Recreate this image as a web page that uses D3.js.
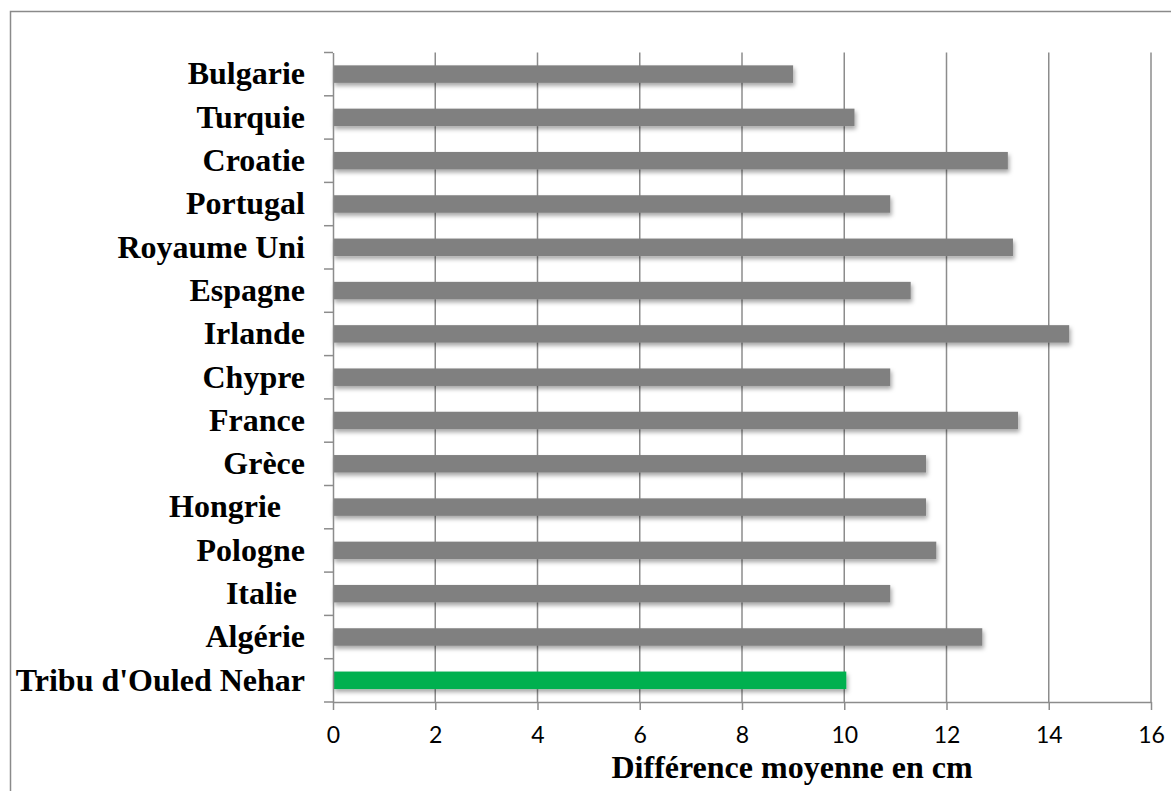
<!DOCTYPE html>
<html><head><meta charset="utf-8">
<script src="https://cdn.jsdelivr.net/npm/d3@7"></script>
<style>
body{margin:0;background:#fff;}
svg{display:block;}
</style></head>
<body>
<svg id="chart" width="1171" height="791"></svg>
<script>
const categories = ["Bulgarie","Turquie","Croatie","Portugal","Royaume Uni","Espagne","Irlande","Chypre","France","Grèce","Hongrie\u00a0\u00a0\u00a0","Pologne","Italie\u00a0","Algérie","Tribu d'Ouled Nehar"];
const values = [9.0,10.2,13.2,10.9,13.3,11.3,14.4,10.9,13.4,11.6,11.6,11.8,10.9,12.7,10.04];
const highlight = "Tribu d'Ouled Nehar";
const xTicks = [0,2,4,6,8,10,12,14,16];
const xTitle = "Différence moyenne en cm";

const svg = d3.select("#chart");
const m = {left:333, right:1151, top:52.5, bottom:702};

svg.append("rect").attr("x",10.5).attr("y",11.5).attr("width",1200).attr("height",800)
  .attr("fill","none").attr("stroke","#8a8a8a").attr("stroke-width",1.5);

const defs = svg.append("defs");
const f = defs.append("filter").attr("id","sh").attr("x","-5%").attr("y","-50%").attr("width","110%").attr("height","220%");
f.append("feDropShadow").attr("dx",1.5).attr("dy",3).attr("stdDeviation",2).attr("flood-color","#000").attr("flood-opacity",0.35);

const x = d3.scaleLinear().domain([0,16]).range([m.left,m.right]);
const yb = d3.scaleBand().domain(categories).range([m.top,m.bottom]);

// gridlines
svg.append("g").selectAll("line").data(xTicks.filter(d=>d>0)).join("line")
  .attr("x1",d=>x(d)).attr("x2",d=>x(d)).attr("y1",m.top).attr("y2",m.bottom)
  .attr("stroke","#8c8c8c").attr("stroke-width",1.5);

// bars
svg.append("g").selectAll("rect").data(categories).join("rect")
  .attr("x",x(0)).attr("y",d=>yb(d)+yb.bandwidth()/2-8.8)
  .attr("width",(d,i)=>x(values[i])-x(0)).attr("height",17.5)
  .attr("fill",d=>d===highlight?"#00b050":"#808080")
  .attr("filter","url(#sh)");

// x axis
const xa = svg.append("g").attr("transform",`translate(0,${m.bottom})`)
  .call(d3.axisBottom(x).tickValues(xTicks).tickSize(8).tickPadding(17).tickSizeOuter(0));
xa.select(".domain").attr("stroke","#8c8c8c").attr("stroke-width",1.5);
xa.selectAll(".tick line").attr("stroke","#8c8c8c").attr("stroke-width",1.5);
xa.selectAll("text").attr("font-family","Lato, 'Open Sans', sans-serif").attr("font-size",23).attr("fill","#000");

// y axis
const ya = svg.append("g").attr("transform",`translate(${m.left},0)`)
  .call(d3.axisLeft(yb).tickSize(0).tickPadding(28));
ya.select(".domain").attr("stroke","#8c8c8c").attr("stroke-width",1.5);
ya.selectAll("text").attr("font-family","'Liberation Serif','Times New Roman',serif")
  .attr("font-weight","bold").attr("font-size",32).attr("fill","#000").style("white-space","pre");
// category boundary ticks
const bounds = categories.map(c=>yb(c)).concat([m.bottom]);
svg.append("g").selectAll("line").data(bounds).join("line")
  .attr("x1",m.left-9).attr("x2",m.left).attr("y1",d=>d).attr("y2",d=>d)
  .attr("stroke","#8c8c8c").attr("stroke-width",1.5);

svg.append("text").attr("x",792).attr("y",778).attr("text-anchor","middle")
  .attr("font-family","'Liberation Serif','Times New Roman',serif").attr("font-weight","bold")
  .attr("font-size",32).text(xTitle);
</script>
</body></html>
